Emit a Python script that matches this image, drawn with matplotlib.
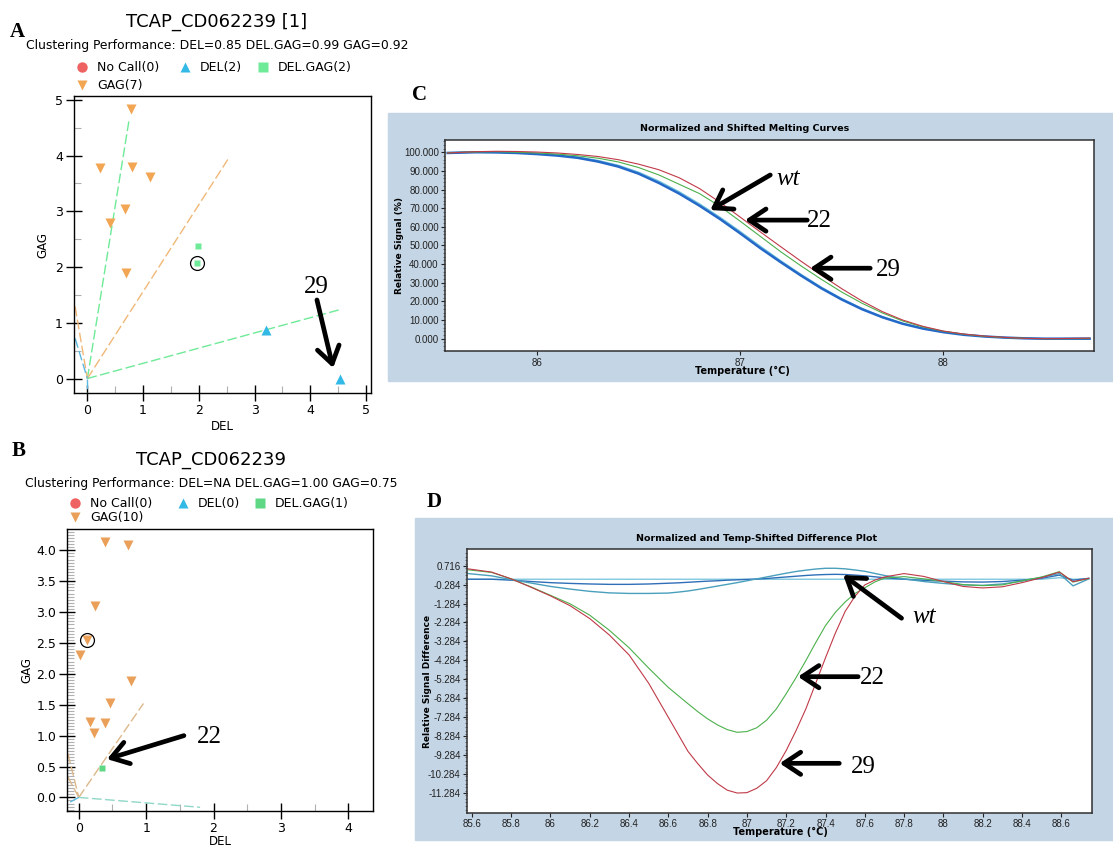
import matplotlib
matplotlib.use("Agg")
import matplotlib.pyplot as plt
from matplotlib import font_manager
from matplotlib.patches import Rectangle
from matplotlib.ticker import MultipleLocator, FixedLocator, FormatStrFormatter

W, H = 1113, 852

# ---- cluster plot A : TCAP_CD062239 [1] ----
a_title = "TCAP_CD062239 [1]"
a_perf = "Clustering Performance: DEL=0.85 DEL.GAG=0.99 GAG=0.92"
a_nocall_x, a_nocall_y = [], []
a_del_x = [3.20, 4.53]
a_del_y = [0.87, 0.00]
a_delgag_x = [1.98, 1.96]
a_delgag_y = [2.37, 2.08]
a_gag_x = [0.78, 0.22, 0.80, 1.12, 0.68, 0.40, 0.70]
a_gag_y = [4.84, 3.77, 3.80, 3.61, 3.05, 2.79, 1.89]
a_circled = (1.96, 2.08)
# cluster boundary segments (x pairs, y pairs)
a_bound_x = [[0, 0.75], [0, 2.52], [0, 4.51], [-0.22, 0], [-0.22, 0], [0, 0]]
a_bound_y = [[0, 4.65], [0, 3.93], [0, 1.23], [1.29, 0], [0.72, 0], [0, -0.26]]

# ---- cluster plot B : TCAP_CD062239 ----
b_title = "TCAP_CD062239"
b_perf = "Clustering Performance: DEL=NA DEL.GAG=1.00 GAG=0.75"
b_nocall_x, b_nocall_y = [], []
b_del_x, b_del_y = [], []
b_delgag_x = [0.34]
b_delgag_y = [0.47]
b_gag_x = [0.39, 0.73, 0.24, 0.12, 0.02, 0.78, 0.46, 0.17, 0.39, 0.23]
b_gag_y = [4.14, 4.08, 3.10, 2.54, 2.31, 1.89, 1.53, 1.22, 1.20, 1.05]
b_circled = (0.12, 2.54)
b_bound_x = [[0, 0.96], [0, 1.80], [-0.16, 0], [-0.16, 0], [0, -0.17]]
b_bound_y = [[0, 1.52], [0, -0.16], [0.71, 0], [0.33, 0], [0, -0.10]]

# ---- C : normalized and shifted melting curves ----
c_temp = [85.56, 85.7, 85.8, 85.9, 86.0, 86.1, 86.2, 86.3, 86.4, 86.5, 86.6,
          86.7, 86.8, 86.9, 87.0, 87.1, 87.2, 87.3, 87.4, 87.5, 87.6, 87.7,
          87.8, 87.9, 88.0, 88.1, 88.2, 88.3, 88.4, 88.5, 88.6, 88.72]
c_wt_a = [99.6, 100.0, 99.9, 99.6, 99.0, 98.2, 97.0, 95.0, 92.3, 88.5, 83.5,
          77.8, 71.3, 64.2, 56.5, 48.5, 41.0, 33.8, 27.0, 21.0, 15.8, 11.5,
          8.0, 5.4, 3.5, 2.1, 1.2, 0.6, 0.2, 0.0, 0.0, 0.0]
c_wt_b = [99.8, 100.1, 100.0, 99.7, 99.2, 98.5, 97.4, 95.6, 93.0, 89.3, 84.5,
          78.8, 72.3, 65.2, 57.5, 49.5, 41.8, 34.5, 27.6, 21.5, 16.2, 11.8,
          8.2, 5.5, 3.6, 2.2, 1.2, 0.6, 0.2, 0.0, 0.1, 0.2]
c_s22 = [99.7, 100.2, 100.3, 100.0, 99.6, 99.0, 98.1, 96.8, 94.8, 91.8, 87.8,
         82.8, 77.8, 71.0, 63.0, 54.8, 46.6, 39.0, 31.8, 25.0, 19.0, 13.8,
         9.5, 6.3, 4.0, 2.4, 1.3, 0.6, 0.2, 0.0, 0.0, 0.1]
c_s29 = [99.6, 100.3, 100.5, 100.4, 100.1, 99.6, 98.8, 97.7, 96.0, 93.6, 90.6,
         86.3, 80.5, 73.2, 65.2, 57.2, 49.3, 41.5, 34.0, 26.8, 20.2, 14.5,
         10.0, 6.6, 4.1, 2.5, 1.4, 0.7, 0.2, 0.0, 0.1, 0.3]

# ---- D : normalized and temp-shifted difference plot ----
d_temp = [85.58, 85.7, 85.8, 85.9, 86.0, 86.1, 86.2, 86.3, 86.4, 86.5, 86.6,
          86.65, 86.7, 86.75, 86.8, 86.85, 86.9, 86.95, 87.0, 87.05, 87.1,
          87.15, 87.2, 87.25, 87.3, 87.35, 87.4, 87.45, 87.5, 87.55, 87.6,
          87.65, 87.7,
          87.8, 87.9, 88.0, 88.1, 88.2, 88.3, 88.4, 88.5, 88.59, 88.66, 88.74]
d_wt_flat = [0.0] * 41 + [0.08, 0.0, 0.02]
d_wt_mid = [0.0, 0.0, -0.05, -0.12, -0.18, -0.22, -0.25, -0.27, -0.27, -0.25,
            -0.21,
            -0.19, -0.16, -0.13, -0.10, -0.08, -0.05, -0.03, -0.01, 0.01, 0.04,
            0.08, 0.12, 0.16, 0.20, 0.23, 0.25, 0.26, 0.25, 0.22, 0.18, 0.13,
            0.08,
            0.0, -0.06, -0.10, -0.14, -0.15, -0.12, -0.05, 0.05, 0.22, -0.05,
            0.05]
d_wt_teal = [0.30, 0.18, -0.02, -0.20, -0.38, -0.52, -0.64, -0.72, -0.75,
             -0.75, -0.73,
             -0.68, -0.62, -0.54, -0.45, -0.36, -0.27, -0.18, -0.08, 0.02,
             0.12, 0.22, 0.32, 0.41, 0.48, 0.54, 0.58, 0.58, 0.55, 0.49, 0.42,
             0.31, 0.20,
             0.02, -0.12, -0.22, -0.30, -0.32, -0.25, -0.10, 0.10, 0.30, -0.35,
             0.02]
d_s22 = [0.50, 0.36, 0.02, -0.40, -0.85, -1.30, -1.90, -2.70, -3.62, -4.70,
         -5.72,
         -6.15, -6.58, -7.00, -7.38, -7.70, -7.95, -8.09, -8.05, -7.85, -7.45,
         -6.85, -6.05, -5.20, -4.30, -3.35, -2.45, -1.75, -1.20, -0.75, -0.45,
         -0.15, 0.06,
         0.14, 0.02, -0.12, -0.28, -0.34, -0.30, -0.08, 0.12, 0.40, -0.15, 0.05]
d_s29 = [0.55, 0.38, 0.02, -0.42, -0.88, -1.40, -2.08, -2.95, -4.00, -5.50,
         -7.30,
         -8.20, -9.10, -9.75, -10.35, -10.80, -11.15, -11.30, -11.28, -11.05,
         -10.65, -9.95, -9.05, -8.00, -6.85, -5.50, -4.15, -2.85, -1.70,
         -0.90, -0.30, -0.05, 0.12,
         0.30, 0.15, -0.12, -0.38, -0.46, -0.40, -0.18, 0.08, 0.38, -0.13, 0.05]
d_yticks = [0.716 - k for k in range(13)]
d_xticks = [85.6 + 0.2 * k for k in range(16)]

ORANGE = "#f2a552"
BLUE = "#33b9e6"
GREEN = "#6eea98"
RED = "#ee6262"
PANEL_BG = "#c4d5e5"

names = {f.name for f in font_manager.fontManager.ttflist}
NARROW = "Liberation Sans Narrow" if "Liberation Sans Narrow" in names else "Liberation Sans"
SERIF = "Liberation Serif"


def fx(x):
    return x / W


def fy(y):
    return 1 - y / H


fig = plt.figure(figsize=(W / 100, H / 100), dpi=100)
fig.patch.set_facecolor("white")


def cluster_panel(rect, title, perf, tpos, legend_y, legend_x,
                  groups, bx, by, bcols, circled, xlim, ylim, yminor, yfmt):
    ax = fig.add_axes(rect)
    for (xs, ys, mk, col, ms) in groups:
        ax.plot(xs, ys, ls="none", marker=mk, color=col, ms=ms, mec="none", zorder=3)
    for xs, ys, col in zip(bx, by, bcols):
        ax.plot(xs, ys, color=col, lw=1.0, dashes=(7, 2.5), zorder=2)
    ax.plot([circled[0]], [circled[1]], ls="none", marker="o", ms=10,
            mfc="none", mec="black", mew=0.9, zorder=4)
    ax.set_xlim(*xlim)
    ax.set_ylim(*ylim)
    ax.xaxis.set_major_locator(MultipleLocator(1))
    ax.xaxis.set_minor_locator(MultipleLocator(0.5))
    ax.yaxis.set_major_locator(MultipleLocator(1 if yfmt == "%d" else 0.5))
    ax.yaxis.set_minor_locator(MultipleLocator(yminor))
    ax.yaxis.set_major_formatter(FormatStrFormatter(yfmt))
    ax.tick_params(which="major", direction="inout", length=12, width=1,
                   labelsize=9, colors="black", pad=2)
    ax.tick_params(which="minor", direction="in", length=5, width=0.8,
                   color="#b0b0b0")
    for sp in ax.spines.values():
        sp.set_linewidth(1)
    fig.text(fx(tpos[0]), fy(tpos[1]), title, ha="center", va="center", size=13)
    fig.text(fx(tpos[0]), fy(tpos[1] + 23), perf, ha="center", va="center", size=8.9)
    labels = ["No Call(%d)", "DEL(%d)", "DEL.GAG(%d)", "GAG(%d)"]
    slots = [(0, 0), (1, 0), (2, 0), (0, 1)]
    for (xs, ys, mk, col, ms), lab, (ci, ri) in zip(groups, labels, slots):
        mx, ty = legend_x[ci], legend_y[ri]
        ax.plot([fx(mx)], [fy(ty)], marker=mk, color=col, ms=7.5, mec="none",
                transform=fig.transFigure, clip_on=False)
        fig.text(fx(mx + 15), fy(ty), lab % len(xs), ha="left", va="center", size=9)
    return ax


bcol_a = [GREEN, "#f0b878", GREEN, "#f0b878", "#5cb8e0", "#5cb8e0"]
axa = cluster_panel(
    [fx(74), fy(393), (371 - 74) / W, (393 - 96) / H],
    a_title, a_perf, (217, 22), [67, 85], [82, 185, 263],
    [(a_nocall_x, a_nocall_y, "o", RED, 6.5),
     (a_del_x, a_del_y, "^", BLUE, 6.5),
     (a_delgag_x, a_delgag_y, "s", GREEN, 5),
     (a_gag_x, a_gag_y, "v", ORANGE, 6.5)],
    a_bound_x, a_bound_y, bcol_a, a_circled,
    (-0.24, 5.09), (-0.26, 5.07), 0.5, "%d")
axa.set_xlabel("DEL", size=8.5, labelpad=2)
axa.set_ylabel("GAG", size=8.5, labelpad=4)

bcol_b = ["#dcb88c", "#8fd8c8", "#dcb88c", "#dcb88c", "#5cb8e0"]
axb = cluster_panel(
    [fx(67.3), fy(811), (373.3 - 67.3) / W, (811 - 529.3) / H],
    b_title, b_perf, (211, 460), [503, 517], [75, 183, 260],
    [(b_nocall_x, b_nocall_y, "o", RED, 6.5),
     (b_del_x, b_del_y, "^", BLUE, 6.5),
     (b_delgag_x, b_delgag_y, "s", "#5fd886", 5),
     (b_gag_x, b_gag_y, "v", "#eba05a", 6.5)],
    b_bound_x, b_bound_y, bcol_b, b_circled,
    (-0.17, 4.37), (-0.22, 4.34), 0.05, "%.1f")
axb.set_xlabel("DEL", size=8.5, labelpad=0)
axb.set_ylabel("GAG", size=8.5, labelpad=2)

arrow = dict(arrowstyle="->,head_length=0.6,head_width=0.4", lw=3.4,
             color="black", shrinkA=0, shrinkB=0, mutation_scale=20)
big = dict(family=SERIF, size=18, color="black", va="center", ha="left")

axa.annotate("", xy=(4.41, 0.19), xytext=(4.12, 1.41), arrowprops=arrow)
axa.text(3.88, 1.65, "29", **big)
axb.annotate("", xy=(0.42, 0.62), xytext=(1.56, 1.0), arrowprops=arrow)
axb.text(1.75, 0.98, "22", **big)

# ---- C panel ----
fig.add_artist(Rectangle((fx(388), fy(381)), 725 / W, 268 / H,
                         transform=fig.transFigure, color=PANEL_BG, zorder=-10))
axc = fig.add_axes([fx(445), fy(351.3), (1094.3 - 445) / W, (351.3 - 140.3) / H])
axc.plot(c_temp, c_wt_b, color="#6ec3dd", lw=1.0)
axc.plot(c_temp, c_wt_a, color="#2468c8", lw=1.8)
axc.plot(c_temp, c_s22, color="#4cb04c", lw=0.8)
axc.plot(c_temp, c_s29, color="#c03a48", lw=0.8)
axc.set_xlim(85.547, 88.743)
axc.set_ylim(-6.76, 106.4)
axc.xaxis.set_major_locator(FixedLocator([86, 87, 88]))
axc.yaxis.set_major_locator(MultipleLocator(10))
axc.yaxis.set_minor_locator(MultipleLocator(2))
axc.yaxis.set_major_formatter(FormatStrFormatter("%.3f"))

axc.annotate("", xy=(86.853, 69.0), xytext=(87.148, 87.8), arrowprops=arrow)
axc.text(87.18, 85.5, "wt", style="italic", **big)
axc.annotate("", xy=(87.024, 63.6), xytext=(87.33, 63.6), arrowprops=arrow)
axc.text(87.33, 63.0, "22", **big)
axc.annotate("", xy=(87.344, 37.8), xytext=(87.64, 37.8), arrowprops=arrow)
axc.text(87.67, 37.0, "29", **big)

fig.text(fx(745), fy(128.7), "Normalized and Shifted Melting Curves",
         ha="center", va="center", size=6.8, weight="bold")
fig.text(fx(400), fy(246), "Relative Signal (%)", rotation=90,
         ha="center", va="center", size=6.5, weight="bold")
fig.text(fx(742), fy(371), "Temperature (°C)", ha="center", va="center",
         size=7, weight="bold")

# ---- D panel ----
fig.add_artist(Rectangle((fx(414.7), fy(840)), (1113 - 414.7) / W, 322 / H,
                         transform=fig.transFigure, color=PANEL_BG, zorder=-10))
axd = fig.add_axes([fx(467), fy(812.7), (1091.7 - 467) / W, (812.7 - 549.3) / H])
axd.plot(d_temp, d_wt_flat, color="#7fc8de", lw=1.0)
axd.plot(d_temp, d_wt_mid, color="#2f6fb8", lw=1.0)
axd.plot(d_temp, d_wt_teal, color="#4a9fbc", lw=1.0)
axd.plot(d_temp, d_s22, color="#4cb04c", lw=0.8)
axd.plot(d_temp, d_s29, color="#c03a48", lw=0.8)
axd.set_xlim(85.575, 88.755)
axd.set_ylim(-12.34, 1.583)
axd.xaxis.set_major_locator(FixedLocator(d_xticks))
axd.set_xticklabels(["%g" % round(t, 1) for t in d_xticks])
axd.yaxis.set_major_locator(FixedLocator(d_yticks))
axd.yaxis.set_minor_locator(MultipleLocator(0.2))
axd.set_yticklabels(["%.3f" % v for v in d_yticks])

axd.annotate("", xy=(87.49, 0.224), xytext=(87.787, -2.06), arrowprops=arrow)
axd.text(87.84, -1.98, "wt", style="italic", **big)
axd.annotate("", xy=(87.26, -5.15), xytext=(87.566, -5.15), arrowprops=arrow)
axd.text(87.575, -5.24, "22", **big)
axd.annotate("", xy=(87.167, -9.73), xytext=(87.47, -9.73), arrowprops=arrow)
axd.text(87.53, -9.91, "29", **big)

fig.text(fx(757), fy(538.3), "Normalized and Temp-Shifted Difference Plot",
         ha="center", va="center", size=6.8, weight="bold")
fig.text(fx(427), fy(681.7), "Relative Signal Difference", rotation=90,
         ha="center", va="center", size=6.5, weight="bold")
fig.text(fx(780), fy(832), "Temperature (°C)", ha="center", va="center",
         size=7, weight="bold")

for ax in (axc, axd):
    ax.set_facecolor("white")
    ax.tick_params(which="major", direction="out", length=3, width=0.8,
                   labelsize=7, pad=1.5, colors="#222222")
    ax.tick_params(which="minor", direction="out", length=1.5, width=0.5,
                   color="#444444")
    for lab in ax.get_xticklabels() + ax.get_yticklabels():
        lab.set_family(NARROW)
    for sp in ax.spines.values():
        sp.set_linewidth(1.1)
        sp.set_color("#303030")

# panel letters
letter = dict(family=SERIF, size=15, weight="bold", ha="left", va="baseline")
fig.text(fx(10), fy(37), "A", **letter)
fig.text(fx(12), fy(456), "B", **letter)
fig.text(fx(412), fy(100), "C", **letter)
fig.text(fx(427), fy(507), "D", **letter)

fig.savefig("out.png", dpi=100)
